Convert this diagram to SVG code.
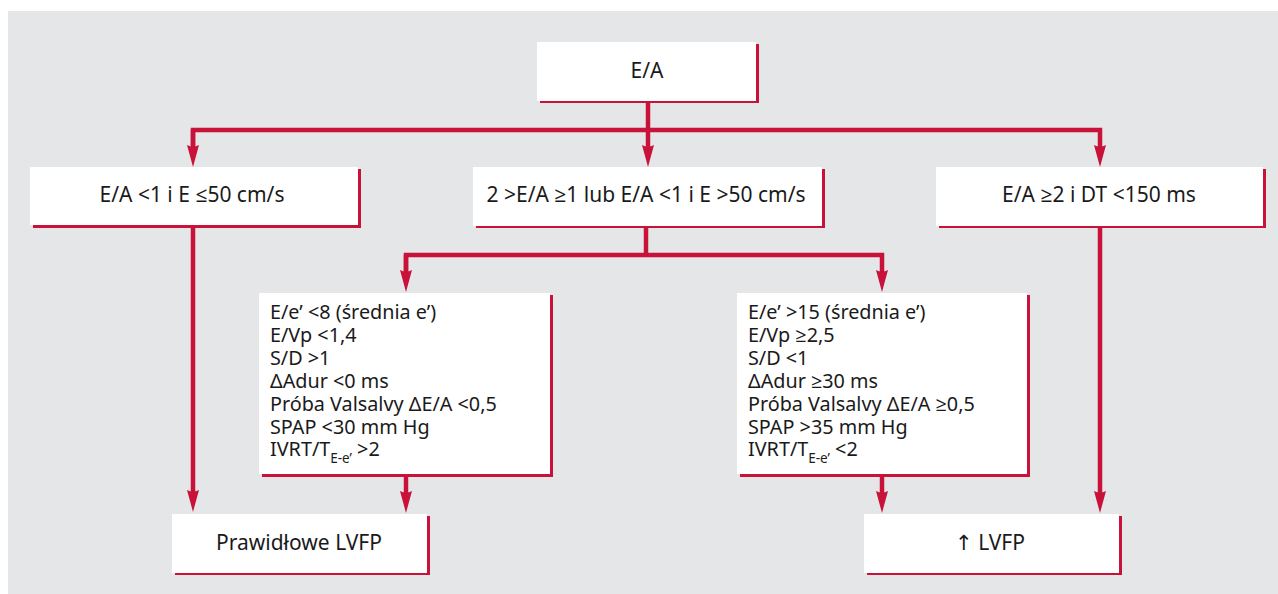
<svg xmlns="http://www.w3.org/2000/svg" width="1278" height="594" viewBox="0 0 1278 594">
<defs>
<style>
.bg{fill:#e5e6e8}
.sh{fill:#c8123a}
.bx{fill:#ffffff}
.ln{stroke:#c8123a;stroke-width:4.5;fill:none}
.t{font-family:"Noto Sans","Open Sans",sans-serif;font-size:21px;fill:#1a1a1a;text-anchor:middle}
.l{font-family:"Noto Sans","Open Sans",sans-serif;font-size:19.8px;fill:#1a1a1a}
.sub{font-size:13.5px}
.arr{font-family:"DejaVu Sans",sans-serif}
</style>
<marker id="ah" markerUnits="userSpaceOnUse" viewBox="0 -6.5 22 13" markerWidth="22" markerHeight="13" refX="10" refY="0" orient="auto">
<path d="M0,-6 Q3,0 0,6 L22,0 Z" fill="#c8123a"/>
</marker>
</defs>
<rect class="bg" x="8" y="11" width="1270" height="583"/>

<g id="connectors">
<path class="ln" d="M648,101 V155" marker-end="url(#ah)"/>
<path class="ln" d="M193,155 V130 H1100 V155" marker-end="url(#ah)"/>
<path class="ln" d="M193,130 V155" marker-end="url(#ah)"/>
<path class="ln" d="M193,225 V500" marker-end="url(#ah)"/>
<path class="ln" d="M1100,225 V501" marker-end="url(#ah)"/>
<path class="ln" d="M646,225 V255"/>
<path class="ln" d="M406,280 V255 H882 V280" marker-end="url(#ah)"/>
<path class="ln" d="M406,255 V280" marker-end="url(#ah)"/>
<path class="ln" d="M406,474 V501" marker-end="url(#ah)"/>
<path class="ln" d="M882,474 V501" marker-end="url(#ah)"/>
</g>

<g id="node-ea">
<rect class="sh" x="540" y="44" width="219" height="59"/>
<rect class="bx" x="537" y="42" width="219" height="59"/>
<text class="t" x="647" y="78">E/A</text>
</g>

<g id="node-left">
<rect class="sh" x="33" y="169" width="328" height="59"/>
<rect class="bx" x="30" y="167" width="328" height="58"/>
<text class="t" x="192" y="202">E/A &lt;1 i E ≤50 cm/s</text>
</g>

<g id="node-mid">
<rect class="sh" x="476" y="169" width="349" height="59"/>
<rect class="bx" x="473" y="167" width="349" height="59"/>
<text class="t" x="646" y="202">2 &gt;E/A ≥1 lub E/A &lt;1 i E &gt;50 cm/s</text>
</g>

<g id="node-right">
<rect class="sh" x="939" y="169" width="327" height="59"/>
<rect class="bx" x="936" y="167" width="327" height="59"/>
<text class="t" x="1099" y="202">E/A ≥2 i DT &lt;150 ms</text>
</g>

<g id="node-list-left">
<rect class="sh" x="262" y="295" width="291" height="182"/>
<rect class="bx" x="259" y="293" width="291" height="181"/>
<text class="l"><tspan x="270" y="319">E/e’ &lt;8 (średnia e’)</tspan><tspan x="270" y="342">E/Vp &lt;1,4</tspan><tspan x="270" y="365">S/D &gt;1</tspan><tspan x="270" y="388">ΔAdur &lt;0 ms</tspan><tspan x="270" y="411">Próba Valsalvy ΔE/A &lt;0,5</tspan><tspan x="270" y="434">SPAP &lt;30 mm Hg</tspan><tspan x="270" y="456">IVRT/T</tspan><tspan class="sub" dy="7">E-e’</tspan><tspan dy="-7"> &gt;2</tspan></text>
</g>

<g id="node-list-right">
<rect class="sh" x="740" y="295" width="290" height="182"/>
<rect class="bx" x="737" y="293" width="290" height="181"/>
<text class="l"><tspan x="748" y="319">E/e’ &gt;15 (średnia e’)</tspan><tspan x="748" y="342">E/Vp ≥2,5</tspan><tspan x="748" y="365">S/D &lt;1</tspan><tspan x="748" y="388">ΔAdur ≥30 ms</tspan><tspan x="748" y="411">Próba Valsalvy ΔE/A ≥0,5</tspan><tspan x="748" y="434">SPAP &gt;35 mm Hg</tspan><tspan x="748" y="456">IVRT/T</tspan><tspan class="sub" dy="7">E-e’</tspan><tspan dy="-7"> &lt;2</tspan></text>
</g>

<g id="node-normal">
<rect class="sh" x="175" y="516" width="255" height="59"/>
<rect class="bx" x="172" y="514" width="255" height="59"/>
<text class="t" x="299" y="550">Prawidłowe LVFP</text>
</g>

<g id="node-high">
<rect class="sh" x="867" y="516" width="255" height="59"/>
<rect class="bx" x="864" y="514" width="255" height="59"/>
<text class="t" x="990" y="550"><tspan class="arr">↑</tspan> LVFP</text>
</g>
</svg>
